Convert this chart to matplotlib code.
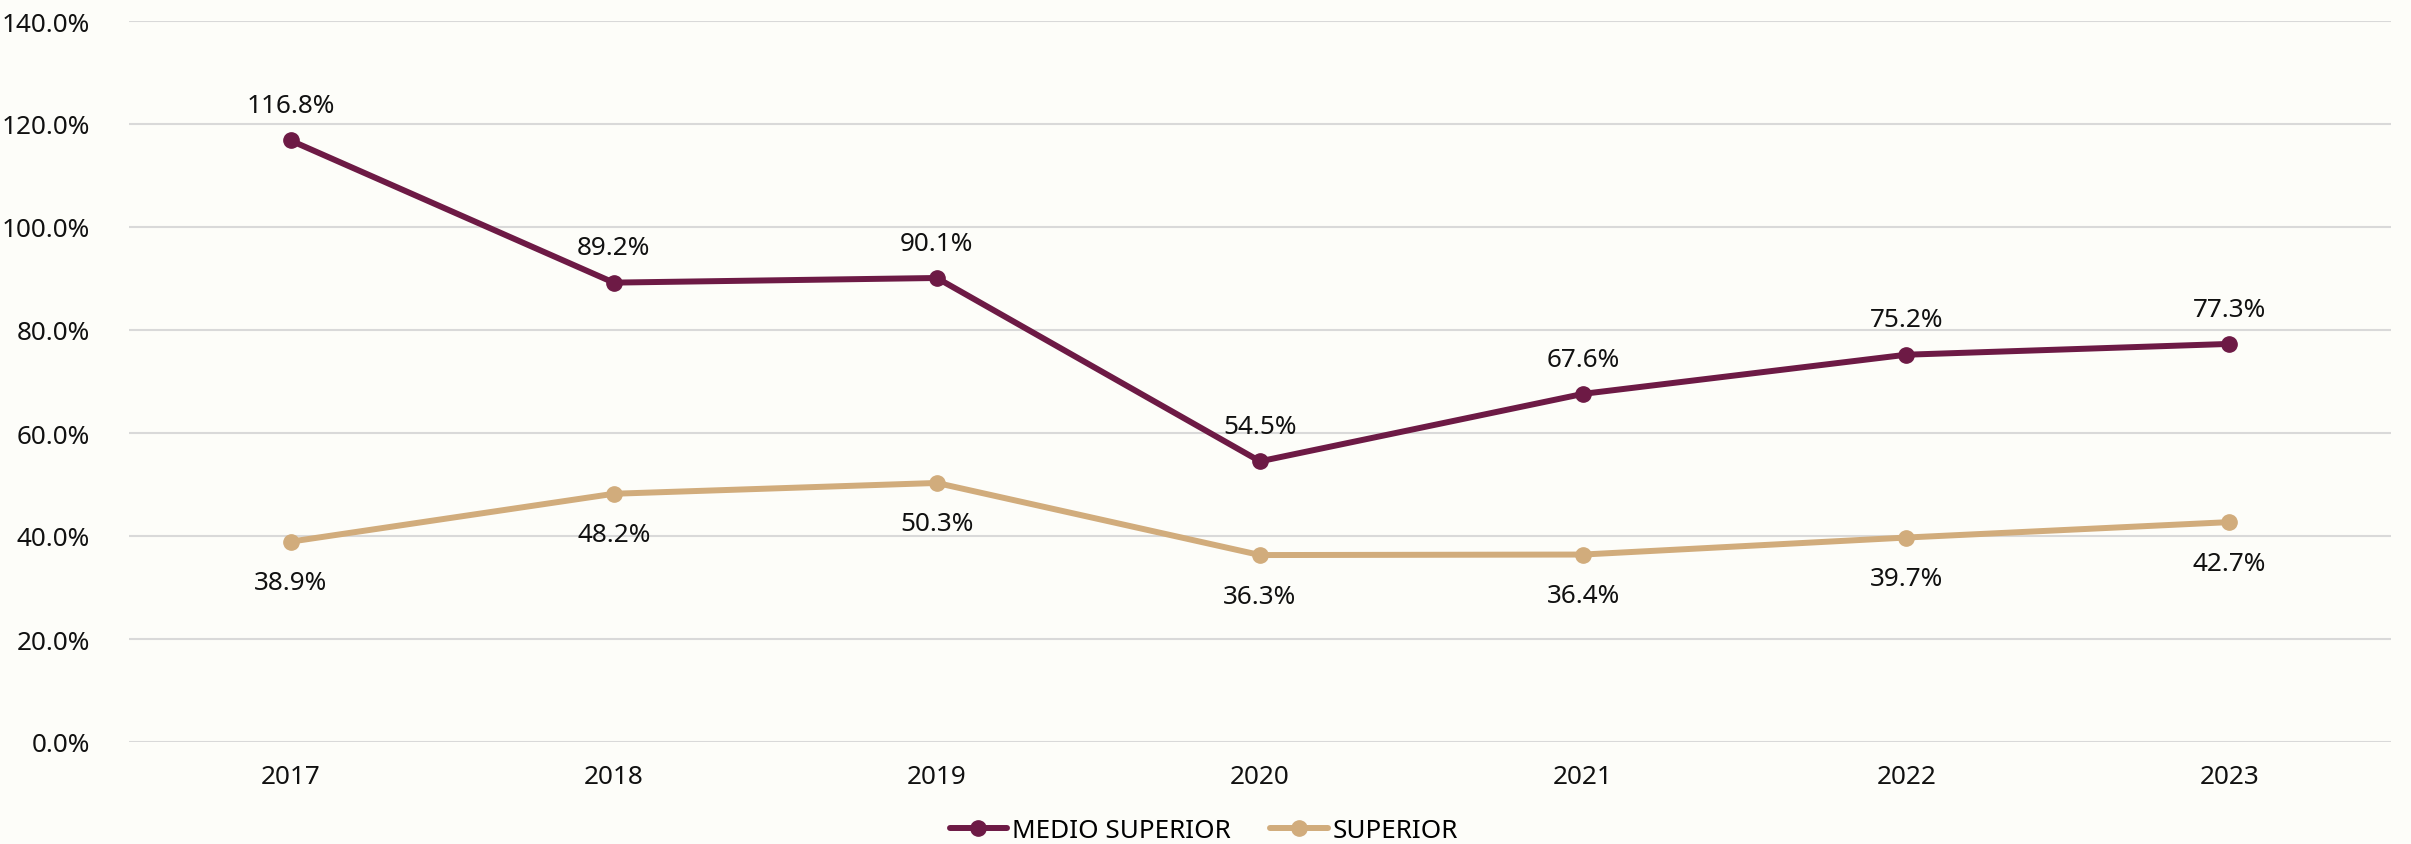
import matplotlib.pyplot as plt
from matplotlib.ticker import FuncFormatter

plt.rcParams['font.family'] = ['Noto Sans', 'DejaVu Sans']

years = ["2017", "2018", "2019", "2020", "2021", "2022", "2023"]
medio_superior = [116.8, 89.2, 90.1, 54.5, 67.6, 75.2, 77.3]
superior = [38.9, 48.2, 50.3, 36.3, 36.4, 39.7, 42.7]

bg = "#FDFDF9"
c_medio = "#6D1A45"
c_sup = "#D1AC7C"

fig = plt.figure(figsize=(24.11, 8.45), dpi=100, facecolor=bg)
ax = fig.add_axes([129 / 2411, 1 - 743 / 845, (2391 - 129) / 2411, (743 - 22) / 845])
ax.set_facecolor(bg)

x = list(range(len(years)))
ax.plot(x, medio_superior, color=c_medio, lw=4.3, marker="o", ms=11, label="MEDIO SUPERIOR",
        solid_capstyle="round", zorder=3)
ax.plot(x, superior, color=c_sup, lw=4.3, marker="o", ms=11, label="SUPERIOR",
        solid_capstyle="round", zorder=3)

# etiquetas de datos
for i, v in enumerate(medio_superior):
    ax.annotate(f"{v:.1f}%", (i, v), xytext=(0, 25), textcoords="offset points",
                ha="center", va="center", fontsize=18.8, color="#111111")
for i, v in enumerate(superior):
    ax.annotate(f"{v:.1f}%", (i, v), xytext=(0, -29.5), textcoords="offset points",
                ha="center", va="center", fontsize=18.8, color="#111111")

ax.set_xlim(-0.5, len(years) - 0.5)
ax.set_ylim(0, 140)
ax.set_yticks(range(0, 141, 20))
ax.yaxis.set_major_formatter(FuncFormatter(lambda v, p: f"{v:.1f}%"))
ax.set_xticks(x)
ax.set_xticklabels(years)
ax.tick_params(axis="both", length=0, labelsize=18.8, colors="#111111")
ax.tick_params(axis="y", pad=28)
ax.tick_params(axis="x", pad=16)
ax.grid(axis="y", color="#D9D9D9", lw=1.5)
ax.set_axisbelow(True)
for s in ax.spines.values():
    s.set_visible(False)

fig.legend(loc="center", bbox_to_anchor=(1204 / 2411, 1 - 832 / 845), ncol=2, frameon=False,
           fontsize=18.8, handlelength=2.2, columnspacing=1.5, handletextpad=0.2)

fig.savefig("out.png", dpi=100, facecolor=bg)
